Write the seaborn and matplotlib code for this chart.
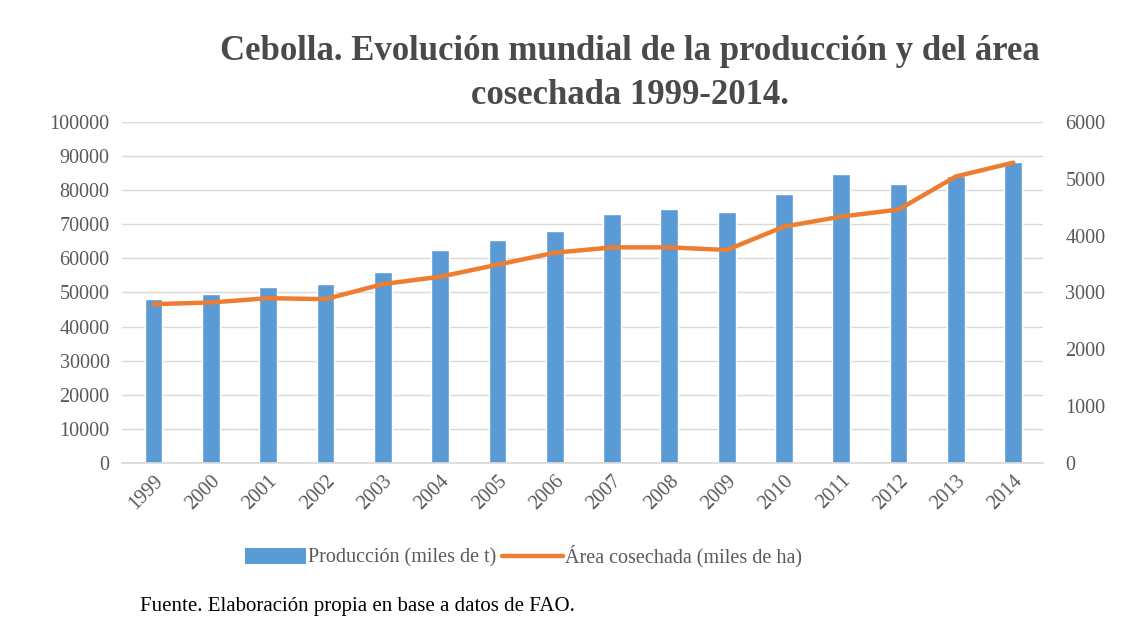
import numpy as np
import pandas as pd
import matplotlib
matplotlib.use("Agg")
import matplotlib.pyplot as plt
import seaborn as sns
from matplotlib.patches import Patch
from matplotlib.lines import Line2D

# Data
years = [str(y) for y in range(1999, 2015)]
produccion = [48100, 49700, 51500, 52600, 55900, 62500, 65400, 68100,
              72900, 74400, 73700, 79000, 84700, 81700, 84200, 88400]
area = [2795, 2824, 2900, 2883, 3148, 3277, 3489, 3700,
        3794, 3794, 3748, 4159, 4336, 4459, 5042, 5284]

bar_color = "#5B9BD5"
line_color = "#ED7D31"
tick_color = "#595959"

sns.set_theme(style="white")
plt.rcParams["font.family"] = ["Liberation Serif", "DejaVu Serif"]

df = pd.DataFrame({"year": years, "produccion": produccion, "area": area})
df["pos"] = np.arange(len(years))

fig = plt.figure(figsize=(11.33, 6.22), dpi=100)
ax = fig.add_axes([0.1077, 0.2556, 0.8129, 0.5483])

sns.barplot(data=df, x="year", y="produccion", color=bar_color, width=0.31,
            saturation=1, ax=ax, zorder=2)
ax.set_ylim(0, 100000)
ax.set_yticks(np.arange(0, 100001, 10000))
ax.set_xlim(-0.55, 15.52)
ax.grid(axis="y", color="#D9D9D9", linewidth=1, zorder=0)
ax.set_axisbelow(True)
ax.set_xlabel("")
ax.set_ylabel("")
for s in ["top", "right", "left"]:
    ax.spines[s].set_visible(False)
ax.spines["bottom"].set_color("#D9D9D9")
ax.tick_params(axis="y", length=0, labelsize=14.5, colors=tick_color, pad=9)
ax.tick_params(axis="x", length=0, labelsize=14.5, colors=tick_color, pad=6)
plt.setp(ax.get_xticklabels(), rotation=45, ha="right", rotation_mode="anchor")

ax2 = ax.twinx()
sns.lineplot(data=df, x="pos", y="area", color=line_color, linewidth=3.2,
             ax=ax2, zorder=3)
ax2.set_ylim(0, 6000)
ax2.set_yticks(np.arange(0, 6001, 1000))
ax2.set_xlim(-0.55, 15.52)
ax2.set_ylabel("")
ax2.set_xlabel("")
for s in ["top", "right", "left", "bottom"]:
    ax2.spines[s].set_visible(False)
ax2.tick_params(axis="y", length=0, labelsize=14.5, colors=tick_color, pad=16)

title_kw = dict(ha="center", va="center", fontsize=25, fontweight="bold",
                color="#4a4a4a")
fig.text(0.556, 0.918, "Cebolla. Evolución mundial de la producción y del área",
         **title_kw)
fig.text(0.556, 0.846, "cosechada 1999-2014.", **title_kw)

handles = [Patch(facecolor=bar_color, edgecolor="none"),
           Line2D([], [], color=line_color, linewidth=3.2)]
fig.legend(handles, ["Producción (miles de t)", "Área cosechada (miles de ha)"],
           loc="center", bbox_to_anchor=(0.462, 0.105), ncol=2, frameon=False,
           fontsize=14.5, labelcolor=tick_color, handlelength=3.0,
           handleheight=0.8, handletextpad=0.1, columnspacing=0.3)

fig.text(0.124, 0.025, "Fuente. Elaboración propia en base a datos de FAO.",
         ha="left", va="center", fontsize=15, color="black")

fig.savefig("out.png", dpi=100, facecolor="white")
